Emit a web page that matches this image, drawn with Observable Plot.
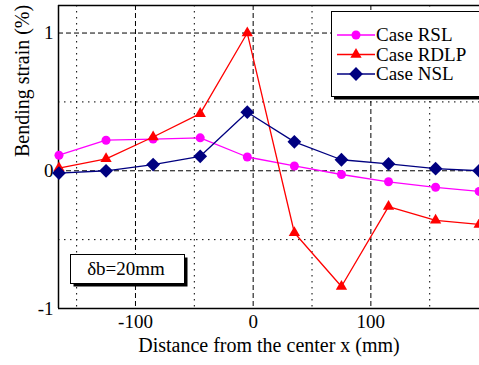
<!DOCTYPE html>
<html><head><meta charset="utf-8">
<script src="https://cdn.jsdelivr.net/npm/d3@7"></script>
<script src="https://cdn.jsdelivr.net/npm/@observablehq/plot@0.6"></script>
<style>
body{margin:0;background:#fff}
#chart svg, #chart svg g, #chart svg text{font-family:"Liberation Serif","Times New Roman",Times,"DejaVu Serif",serif !important}
</style>
</head><body><div id="chart"></div>
<script>
const xs   = [-165, -125, -85, -45, -5, 35, 75, 115, 155, 192];
const rsl  = [0.113, 0.222, 0.23, 0.239, 0.10, 0.035, -0.027, -0.08, -0.12, -0.15];
const rdlp = [0.02, 0.087, 0.245, 0.415, 1.0, -0.45, -0.84, -0.26, -0.36, -0.39];
const nsl  = [-0.017, 0.0, 0.045, 0.105, 0.425, 0.21, 0.08, 0.05, 0.015, 0.0];
const seriesNames = ["Case RSL", "Case RDLP", "Case NSL"];
const seriesColors = ["#ff00ff", "#ff0000", "#000080"];
const seriesSymbols = ["circle", "triangle", "diamond2"];
const seriesR = [4.5, 4.2, 6.2];
const xDomain = [-165.4, 192.3];
const yDomain = [-1, 1.2];
const xMajor = [-100, 0, 100], xMinor = [-150, -50, 50, 150];
const yMajor = [-1, 0, 1], yMinor = [-0.5, 0.5];
const annotation = "δb=20mm";

const allSeries = [rsl, rdlp, nsl];
const rows = allSeries.flatMap((vals, i) => vals.map((v, j) => ({x: xs[j], y: v, s: seriesNames[i]})));
const font = '"Liberation Serif", "Times New Roman", Times, "DejaVu Serif", serif';

const marks = [
  Plot.ruleX(xMinor, {stroke: "black", strokeDasharray: "1.5,4.5", strokeWidth: 1}),
  Plot.ruleY(yMinor, {stroke: "black", strokeDasharray: "1.5,4.5", strokeWidth: 1}),
  Plot.ruleX(xMajor, {stroke: "black", strokeDasharray: "5,3", strokeWidth: 1}),
  Plot.ruleY(yMajor, {stroke: "black", strokeDasharray: "5,3", strokeWidth: 1}),
  Plot.ruleY([yDomain[1], yDomain[0]], {stroke: "black", strokeWidth: 1.5}),
  Plot.ruleX([xDomain[0]], {stroke: "black", strokeWidth: 1.5}),
];
seriesNames.forEach((name, i) => {
  const d = rows.filter(r => r.s === name);
  marks.push(Plot.line(d, {x: "x", y: "y", stroke: seriesColors[i], strokeWidth: 1.3}));
  marks.push(Plot.dot(d, {x: "x", y: "y", symbol: () => seriesSymbols[i], fill: seriesColors[i], stroke: "none", r: seriesR[i]}));
});
marks.push(Plot.text(["Distance from the center x (mm)"], {frameAnchor: "bottom", dy: 43, fontSize: 20, fill: "black"}));
marks.push(Plot.text(["Bending strain (%)"], {frameAnchor: "left", rotate: -90, dx: -36, fontSize: 20, fill: "black"}));

const plot = Plot.plot({
  width: 479, height: 365,
  marginLeft: 58, marginRight: 0, marginTop: 5, marginBottom: 57,
  style: {fontFamily: font, fontSize: "19px", color: "black", background: "white"},
  x: {domain: xDomain, ticks: xMajor, tickSize: 0, tickPadding: 6, label: null, tickFormat: d => String(d)},
  y: {domain: yDomain, ticks: yMajor, tickSize: 0, tickPadding: 5, label: null, tickFormat: d => String(d)},
  symbol: {type: "identity"},
  marks
});
document.getElementById("chart").appendChild(plot);

const svg = d3.select(plot);
// enforce serif tick labels at the reference size
svg.selectAll("g[aria-label*='axis'] text, g[aria-label*='axis'] g").style("font-size", "19px");

// Legend and annotation box (decoration drawn on top of the plot)
const lg = svg.append("g").attr("text-anchor", "start");
lg.append("rect").attr("x", 334).attr("y", 14.5).attr("width", 160).attr("height", 85).attr("fill", "black");
lg.append("rect").attr("x", 331.5).attr("y", 11.5).attr("width", 160).attr("height", 85).attr("fill", "white").attr("stroke", "black").attr("stroke-width", 1);
const symMap = {circle: d3.symbolCircle, triangle: d3.symbolTriangle, diamond2: d3.symbolDiamond2};
seriesNames.forEach((name, i) => {
  const yy = 35 + i * 19.5;
  lg.append("line").attr("x1", 337).attr("x2", 375).attr("y1", yy).attr("y2", yy).attr("stroke", seriesColors[i]).attr("stroke-width", 1.3);
  lg.append("path").attr("transform", `translate(356,${yy})`)
    .attr("d", d3.symbol(symMap[seriesSymbols[i]], Math.PI * seriesR[i] * seriesR[i])())
    .attr("fill", seriesColors[i]);
  lg.append("text").attr("x", 376).attr("y", yy).attr("dy", "0.34em").attr("text-anchor", "start").style("font-size", "19px").attr("fill", "black").text(name);
});
const ab = svg.append("g");
ab.append("rect").attr("x", 73.5).attr("y", 257.5).attr("width", 114).attr("height", 29).attr("fill", "black");
ab.append("rect").attr("x", 70.5).attr("y", 254.5).attr("width", 114).attr("height", 29).attr("fill", "white").attr("stroke", "black").attr("stroke-width", 1);
ab.append("text").attr("x", 126).attr("y", 269).attr("dy", "0.34em").attr("text-anchor", "middle").style("font-size", "19px").attr("fill", "black").text(annotation);
</script>
</body></html>
